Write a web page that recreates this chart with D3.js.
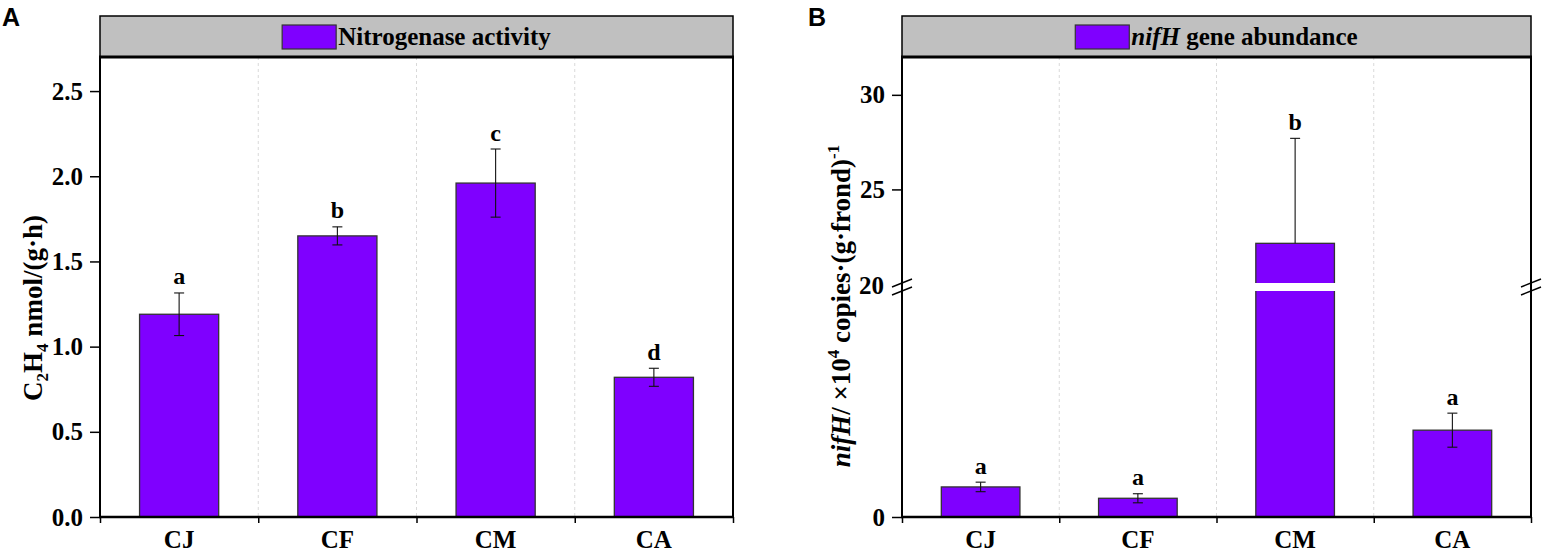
<!DOCTYPE html>
<html>
<head>
<meta charset="utf-8">
<script src="https://cdn.jsdelivr.net/npm/d3@7"></script>
<style>
  body { margin: 0; background: #fff; }
  svg text { font-family: 'Liberation Serif', 'Times New Roman', serif; font-weight: bold; fill: #000; }
</style>
</head>
<body>
<div id="chart"></div>
<script>
// data
const categories = ['CJ', 'CF', 'CM', 'CA'];

const nitrogenaseMean = [1.19, 1.65, 1.96, 0.82];
const nitrogenaseSE = [0.125, 0.053, 0.2, 0.053];
const nitrogenaseLetters = ['a', 'b', 'c', 'd'];
const nitrogenaseTicks = [0, 0.5, 1.0, 1.5, 2.0, 2.5];

const nifhMean = [2.65, 1.65, 22.15, 7.65];
const nifhSE = [0.42, 0.4, 5.55, 1.5];
const nifhLetters = ['a', 'a', 'b', 'a'];
const nifhLowTicks = [0];
const nifhHighTicks = [25, 30];
const nifhBreak = 20;

const barColor = '#7f00ff';

const svg = d3.select('#chart').append('svg')
    .attr('width', 1545)
    .attr('height', 554);

class BarPanel {
    constructor(opts) {
        this.opts = opts;
        this.g = svg.append('g');
        this.draw();
    }

    draw() {
        const o = this.opts;
        this.top = 57;
        this.bottom = 517;
        this.x = d3.scaleBand().domain(categories).range([o.left, o.right]);
        this.bw = this.x.bandwidth() * 0.5;
        this.data = categories.map((c, i) => ({ cat: c, mean: o.mean[i], se: o.se[i], letter: o.letters[i] }));

        // dashed separators
        this.g.selectAll('line.grid')
            .data(categories.slice(1))
            .enter().append('line')
            .attr('class', 'grid')
            .attr('x1', d => this.x(d)).attr('x2', d => this.x(d))
            .attr('y1', this.top).attr('y2', this.bottom)
            .style('stroke', '#d9d9d9')
            .style('stroke-dasharray', '3,3');

        this.drawBars();
        this.drawAxes();
        this.drawHeader();
    }

    segmentOf(v) {
        return this.opts.segments.find(s => v > s.domain[0] && v <= s.domain[1]);
    }

    drawBars() {
        const o = this.opts;
        o.segments.forEach(seg => {
            const y = seg.y;
            this.g.selectAll(null)
                .data(this.data.filter(d => d.mean > seg.domain[0]))
                .enter().append('rect')
                .attr('x', d => this.x(d.cat) + (this.x.bandwidth() - this.bw) / 2)
                .attr('width', this.bw)
                .attr('y', d => y(Math.min(d.mean, seg.domain[1])))
                .attr('height', d => y(seg.domain[0]) - y(Math.min(d.mean, seg.domain[1])))
                .style('fill', barColor)
                .style('stroke', '#333')
                .style('stroke-width', 1.3);
        });

        // white gap through broken bars
        if (o.gap) {
            this.g.selectAll(null)
                .data(this.data.filter(d => d.mean > o.breakAt))
                .enter().append('rect')
                .attr('x', d => this.x(d.cat) + (this.x.bandwidth() - this.bw) / 2 - 2)
                .attr('width', this.bw + 4)
                .attr('y', o.gap[0])
                .attr('height', o.gap[1] - o.gap[0])
                .style('fill', '#fff');
        }

        // error bars + letters
        this.data.forEach(d => {
            const seg = this.segmentOf(d.mean);
            const y = seg.y;
            const cx = this.x(d.cat) + this.x.bandwidth() / 2;
            let lo = d.mean - d.se;
            const loVisible = lo >= seg.domain[0];
            if (!loVisible) lo = d.mean;
            const hi = d.mean + d.se;
            const eb = this.g.append('g').style('stroke', '#111').style('stroke-width', 1.1);
            eb.append('line').attr('x1', cx).attr('x2', cx).attr('y1', y(lo)).attr('y2', y(hi));
            eb.append('line').attr('x1', cx - 5).attr('x2', cx + 5).attr('y1', y(hi)).attr('y2', y(hi));
            if (loVisible) {
                eb.append('line').attr('x1', cx - 5).attr('x2', cx + 5).attr('y1', y(lo)).attr('y2', y(lo));
            }
            this.g.append('text')
                .attr('x', cx)
                .attr('y', y(hi) - 8.5)
                .attr('text-anchor', 'middle')
                .style('font-size', '24px')
                .text(d.letter);
        });
    }

    drawAxes() {
        const o = this.opts;

        o.segments.forEach(seg => {
            const ax = this.g.append('g')
                .attr('transform', `translate(${o.left},0)`)
                .call(d3.axisLeft(seg.y).tickValues(seg.ticks).tickSize(10).tickPadding(7).tickFormat(seg.format));
            ax.select('.domain').remove();
            ax.selectAll('line').style('stroke', '#000').style('stroke-width', 1.5);
            ax.selectAll('text')
                .style('font-family', "'Liberation Serif', 'Times New Roman', serif")
                .style('font-size', '25px').style('font-weight', 'bold');
        });

        // bottom ticks at category boundaries
        const edge = d3.scaleLinear().domain([0, categories.length]).range([o.left, o.right]);
        const bx = this.g.append('g')
            .attr('transform', `translate(0,${this.bottom})`)
            .call(d3.axisBottom(edge).ticks(categories.length).tickSize(6).tickFormat(''));
        bx.select('.domain').remove();
        bx.selectAll('line').style('stroke', '#000').style('stroke-width', 1.5);

        this.g.selectAll('text.cat')
            .data(categories)
            .enter().append('text')
            .attr('class', 'cat')
            .attr('x', d => this.x(d) + this.x.bandwidth() / 2)
            .attr('y', 548)
            .attr('text-anchor', 'middle')
            .style('font-size', '25px')
            .text(d => d);

        // frame
        const line = (x1, y1, x2, y2, w) => this.g.append('line')
            .attr('x1', x1).attr('y1', y1).attr('x2', x2).attr('y2', y2)
            .style('stroke', '#000').style('stroke-width', w);
        line(o.left, this.top, o.left, this.bottom, 2);
        line(o.right, this.top, o.right, this.bottom, 2);
        line(o.left - 1, this.bottom, o.right + 1, this.bottom, 2.5);

        // axis break
        if (o.breakAt !== undefined) {
            const by = (o.gap[0] + o.gap[1]) / 2;
            [o.left, o.right].forEach(ax => {
                [-4, 4].forEach(off => {
                    line(ax - 10, by + off + 4, ax + 10, by + off - 4, 1.5);
                });
            });
            this.g.append('text')
                .attr('x', o.left - 18)
                .attr('y', by - 2)
                .attr('dy', '0.35em')
                .attr('text-anchor', 'end')
                .style('font-size', '25px')
                .text(o.breakAt);
        }

        // y title
        const t = this.g.append('text')
            .attr('transform', `translate(${o.titleX},${o.titleY}) rotate(-90)`)
            .attr('text-anchor', 'middle')
            .style('font-size', '27px');
        o.yTitle(t);
    }

    drawHeader() {
        const o = this.opts;
        this.g.append('rect')
            .attr('x', o.left).attr('y', 16)
            .attr('width', o.right - o.left).attr('height', this.top - 16)
            .style('fill', '#c0c0c0')
            .style('stroke', '#000')
            .style('stroke-width', 1.5);
        this.g.append('line')
            .attr('x1', o.left - 1).attr('x2', o.right + 1)
            .attr('y1', this.top).attr('y2', this.top)
            .style('stroke', '#000').style('stroke-width', 3);

        const lg = this.g.append('g');
        const sw = lg.append('rect')
            .attr('width', 54).attr('height', 24).attr('y', 25)
            .style('fill', barColor).style('stroke', '#333').style('stroke-width', 1.2);
        const txt = lg.append('text').attr('y', 45).style('font-size', '25px');
        o.header(txt);
        const tw = txt.node().getComputedTextLength();
        const start = (o.left + o.right) / 2 - (54 + 2 + tw) / 2;
        sw.attr('x', start);
        txt.attr('x', start + 56);

        svg.append('text')
            .attr('x', o.labelX).attr('y', 26)
            .style('font-family', "'Liberation Sans', Arial, sans-serif")
            .style('font-size', '25px')
            .text(o.label);
    }
}

new BarPanel({
    left: 100, right: 733,
    mean: nitrogenaseMean, se: nitrogenaseSE, letters: nitrogenaseLetters,
    segments: [{
        domain: [0, 2.7],
        y: d3.scaleLinear().domain([0, 2.7]).range([517, 57]),
        ticks: nitrogenaseTicks,
        format: d3.format('.1f')
    }],
    titleX: 42, titleY: 308,
    yTitle: t => {
        t.append('tspan').text('C');
        t.append('tspan').attr('dy', 6).style('font-size', '17px').text('2');
        t.append('tspan').attr('dy', -6).text('H');
        t.append('tspan').attr('dy', 6).style('font-size', '17px').text('4');
        t.append('tspan').attr('dy', -6).text(' nmol/(g·h)');
    },
    header: t => t.text('Nitrogenase activity'),
    label: 'A', labelX: 2
});

new BarPanel({
    left: 902, right: 1531,
    mean: nifhMean, se: nifhSE, letters: nifhLetters,
    breakAt: nifhBreak,
    gap: [283, 291],
    segments: [{
        domain: [0, nifhBreak],
        y: d3.scaleLinear().domain([0, nifhBreak]).range([517, 290]),
        ticks: nifhLowTicks,
        format: d3.format('d')
    }, {
        domain: [nifhBreak, 32],
        y: d3.scaleLinear().domain([nifhBreak, 32]).range([284, 57]),
        ticks: nifhHighTicks,
        format: d3.format('d')
    }],
    titleX: 850, titleY: 306,
    yTitle: t => {
        t.append('tspan').style('font-style', 'italic').text('nifH');
        t.append('tspan').text('/ ×10');
        t.append('tspan').attr('dy', -11).style('font-size', '17px').text('4');
        t.append('tspan').attr('dy', 11).text(' copies·(g·frond)');
        t.append('tspan').attr('dy', -11).style('font-size', '17px').text('-1');
    },
    header: t => {
        t.append('tspan').style('font-style', 'italic').text('nifH');
        t.append('tspan').text(' gene abundance');
    },
    label: 'B', labelX: 808
});
</script>
</body>
</html>
